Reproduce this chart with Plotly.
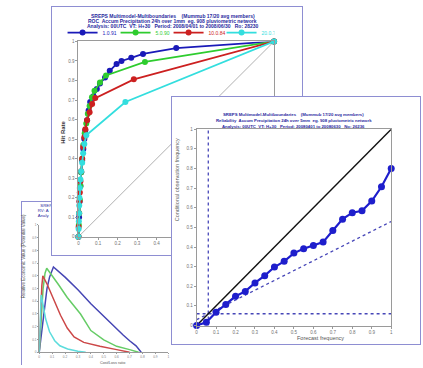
import plotly.graph_objects as go

W, H = 423, 368

# ---------------- DATA ----------------
# ROC curves (false alarm rate, hit rate) for 4 thresholds
roc_names = ["1.0.91", "5.0.90", "10.0.84", "20.0.77"]
roc_colors = ["#1a1ab8", "#2ecc2e", "#cc2020", "#33dede"]
roc_far = [
    [0, 0.003, 0.006, 0.010, 0.014, 0.019, 0.025, 0.030, 0.035, 0.044, 0.052, 0.060,
     0.077, 0.094, 0.110, 0.136, 0.160, 0.195, 0.220, 0.270, 0.330, 0.500, 1.0],
    [0, 0.002, 0.004, 0.007, 0.010, 0.014, 0.019, 0.025, 0.032, 0.040, 0.048, 0.057,
     0.069, 0.082, 0.110, 0.141, 0.340, 1.0],
    [0, 0.001, 0.003, 0.005, 0.007, 0.010, 0.014, 0.019, 0.024, 0.030, 0.035, 0.044,
     0.057, 0.070, 0.086, 0.283, 1.0],
    [0, 0.001, 0.002, 0.003, 0.004, 0.005, 0.007, 0.010, 0.014, 0.019, 0.024, 0.030,
     0.040, 0.240, 1.0],
]
roc_hr = [
    [0, 0.10, 0.18, 0.26, 0.33, 0.39, 0.45, 0.50, 0.545, 0.596, 0.646, 0.690,
     0.720, 0.756, 0.785, 0.815, 0.850, 0.885, 0.900, 0.916, 0.936, 0.966, 1.0],
    [0, 0.06, 0.12, 0.19, 0.26, 0.33, 0.40, 0.47, 0.53, 0.58, 0.63, 0.67,
     0.714, 0.747, 0.790, 0.826, 0.895, 1.0],
    [0, 0.05, 0.12, 0.18, 0.227, 0.284, 0.335, 0.40, 0.46, 0.51, 0.55, 0.596,
     0.638, 0.680, 0.710, 0.806, 1.0],
    [0, 0.04, 0.08, 0.12, 0.16, 0.20, 0.25, 0.293, 0.335, 0.379, 0.428, 0.475,
     0.52, 0.69, 1.0],
]

# Reliability diagram
rel_fcst = [0, 0.05, 0.10, 0.15, 0.20, 0.25, 0.30, 0.35, 0.40, 0.45, 0.50,
            0.55, 0.60, 0.65, 0.70, 0.75, 0.80, 0.85, 0.90, 0.95, 1.0]
rel_obs = [0.0, 0.017, 0.068, 0.107, 0.149, 0.174, 0.217, 0.254, 0.298, 0.327, 0.369,
           0.391, 0.408, 0.425, 0.484, 0.542, 0.575, 0.585, 0.634, 0.707, 0.80]
clim = 0.06

# Relative value curves (cost/loss ratio, value)
rv_colors = ["#4646b4", "#66cc66", "#cc4848", "#5cdcdc"]
rv_cl = [
    [0, 0.02, 0.04, 0.06, 0.08, 0.10, 0.11, 0.20, 0.30, 0.40, 0.50, 0.60, 0.65, 0.70, 0.75, 0.79],
    [0, 0.015, 0.03, 0.045, 0.058, 0.15, 0.217, 0.32, 0.40, 0.50, 0.60, 0.70, 0.77],
    [0, 0.01, 0.02, 0.028, 0.063, 0.114, 0.165, 0.217, 0.27, 0.345, 0.47, 0.60, 0.70],
    [0, 0.008, 0.015, 0.03, 0.05, 0.08, 0.12, 0.16, 0.22, 0.30, 0.36],
]
rv_val = [
    [0, 0.17, 0.37, 0.50, 0.59, 0.65, 0.67, 0.59, 0.49, 0.38, 0.28, 0.18, 0.135, 0.09, 0.05, 0.0],
    [0, 0.30, 0.50, 0.62, 0.66, 0.53, 0.43, 0.30, 0.17, 0.097, 0.046, 0.02, 0.0],
    [0, 0.30, 0.52, 0.60, 0.53, 0.41, 0.29, 0.19, 0.12, 0.077, 0.046, 0.02, 0.0],
    [0, 0.30, 0.45, 0.37, 0.26, 0.16, 0.09, 0.05, 0.025, 0.008, 0.0],
]

roc_title = ["SREPS Multimodel-Multiboundaries    (Mummub 17/20 avg members)",
             "ROC  Accum Precipitation 24h over 1mm  eg. 908 pluviometric network",
             "Analysis: 00UTC  VT: H+30   Period: 2008/04/01 to 2008/06/30   Ro: 28230"]
rel_title = ["SREPS Multimodel-Multiboundaries    (Mummub 17/20 avg members)",
             "Reliability  Accum Precipitation 24h over 5mm  eg. 908 pluviometric network",
             "Analysis: 00UTC  VT: H+30   Period: 20080401 to 20080630   No: 26236"]
# only the left ends of this panel's title are visible (rest lies under the ROC panel)
rv_title = ["SREP", "RV: A", "Analy"]

# ---------------- helpers ----------------
def dxp(a, b):
    return [a / W, b / W]

def dyp(top, bottom):
    return [max(0.0, 1 - bottom / H), min(1.0, 1 - top / H)]

FONT = "Liberation Sans, Arial, sans-serif"
BORDER = "#8e8ed2"
AXC = "#9a9a9a"
TICKF = dict(size=4.5, color="#707070", family=FONT)
TITLEC = "#2a2aa0"

fig = go.Figure()

# ---- panel 3 (bottom-left, lowest) paper: x/y
fig.add_trace(go.Scatter(
    x=[0.11, 0.095, 0.095], y=[0.976, 0.945, 0.915], mode="text",
    text=rv_title, textposition="middle right",
    textfont=dict(size=4.3, color=TITLEC, family=FONT),
    hoverinfo="skip", showlegend=False, xaxis="x", yaxis="y"))
# ---- panel 3 data: x2/y2
for cl, v, c in zip(rv_cl, rv_val, rv_colors):
    fig.add_trace(go.Scatter(x=cl, y=v, mode="lines", line=dict(color=c, width=1.5),
                             hoverinfo="skip", showlegend=False, cliponaxis=False,
                             xaxis="x2", yaxis="y2"))

# ---- panel 1 (ROC) paper: x3/y3
fig.add_trace(go.Scatter(x=[0.5], y=[0.5], mode="markers", marker=dict(opacity=0),
                         hoverinfo="skip", showlegend=False, xaxis="x3", yaxis="y3"))
# ---- ROC data: x4/y4
fig.add_trace(go.Scatter(x=[0, 1], y=[0, 1], mode="lines", line=dict(color="#b0b0b0", width=1),
                         hoverinfo="skip", showlegend=False, xaxis="x4", yaxis="y4"))
for f, h, n, c in zip(roc_far, roc_hr, roc_names, roc_colors):
    fig.add_trace(go.Scatter(x=f, y=h, mode="lines+markers",
                             name='<span style="color:%s">%s</span>' % (c, n),
                             line=dict(color=c, width=1.8),
                             marker=dict(color=c, size=6),
                             cliponaxis=False, hoverinfo="skip",
                             xaxis="x4", yaxis="y4"))

# ---- panel 2 (reliability) paper: x5/y5
fig.add_trace(go.Scatter(x=[0.5], y=[0.5], mode="markers", marker=dict(opacity=0),
                         hoverinfo="skip", showlegend=False, xaxis="x5", yaxis="y5"))
# ---- reliability data: x6/y6
DOT = "#4646b8"
fig.add_trace(go.Scatter(x=[clim, clim], y=[0, 1], mode="lines",
                         line=dict(color=DOT, width=1.3, dash="dot"),
                         hoverinfo="skip", showlegend=False, xaxis="x6", yaxis="y6"))
fig.add_trace(go.Scatter(x=[0, 1], y=[clim, clim], mode="lines",
                         line=dict(color=DOT, width=1.3, dash="dot"),
                         hoverinfo="skip", showlegend=False, xaxis="x6", yaxis="y6"))
fig.add_trace(go.Scatter(x=[0, 1], y=[clim / 2, (1 + clim) / 2], mode="lines",
                         line=dict(color=DOT, width=1.3, dash="dot"),
                         hoverinfo="skip", showlegend=False, xaxis="x6", yaxis="y6"))
fig.add_trace(go.Scatter(x=[0, 1], y=[0, 1], mode="lines", line=dict(color="#111111", width=1.4),
                         hoverinfo="skip", showlegend=False, xaxis="x6", yaxis="y6"))
fig.add_trace(go.Scatter(x=rel_fcst, y=rel_obs, mode="lines+markers",
                         line=dict(color="#1e1ecc", width=2.2),
                         marker=dict(color="#1e1ecc", size=7),
                         cliponaxis=False, hoverinfo="skip", showlegend=False,
                         xaxis="x6", yaxis="y6"))

# ---------------- axes ----------------
def paper_axes(n, xd, yd, mirror=True, xside="bottom"):
    common = dict(range=[0, 1], showticklabels=False, ticks="", showgrid=False,
                  zeroline=False, showline=True, linecolor=BORDER, linewidth=1,
                  mirror=mirror, fixedrange=True)
    sx = "" if n == 1 else str(n)
    fig.layout["xaxis" + sx] = dict(domain=xd, anchor="y" + sx, side=xside, **common)
    fig.layout["yaxis" + sx] = dict(domain=yd, anchor="x" + sx, **common)

def data_axes(n, xd, yd, mirror, tickfont, ticklen=2):
    sx = str(n)
    common = dict(range=[0, 1], dtick=0.1, tick0=0, showgrid=False, zeroline=False,
                  showline=True, linecolor=AXC, linewidth=1, mirror=mirror,
                  ticks="outside", ticklen=ticklen, tickcolor=AXC, tickwidth=1,
                  tickfont=tickfont, fixedrange=True)
    fig.layout["xaxis" + sx] = dict(domain=xd, anchor="y" + sx, **common)
    fig.layout["yaxis" + sx] = dict(domain=yd, anchor="x" + sx, **common)

paper_axes(1, dxp(21, 190), dyp(203, 368), mirror=False, xside="top")
data_axes(2, dxp(38.5, 168.5), dyp(226, 355), False, dict(size=3.2, color="#808080", family=FONT),
          ticklen=1)
paper_axes(3, dxp(51, 303), dyp(5, 256))
data_axes(4, dxp(78, 275), dyp(40, 238), True, TICKF)
paper_axes(5, dxp(172, 422), dyp(96, 347))
data_axes(6, dxp(197, 393), dyp(129, 328), True, TICKF)

# ---------------- annotations ----------------
ann = []
def add_text(txt, px, py, size, color="#333", bold=False, angle=0, xanchor="center"):
    t = "<b>%s</b>" % txt if bold else txt
    ann.append(dict(text=t, x=px / W, y=1 - py / H, xref="paper", yref="paper",
                    showarrow=False, textangle=angle, xanchor=xanchor, yanchor="middle",
                    font=dict(size=size, color=color, family=FONT)))

for i, line in enumerate(roc_title):
    add_text(line, 173, 14 + 5 * i, 5, TITLEC, bold=True)
for i, line in enumerate(rel_title):
    add_text(line, 295, 114 + 6 * i, 4.3, TITLEC, bold=True)

add_text("Hit Rate", 63, 132, 6, "#333", bold=True, angle=-90)
add_text("Conditional observation frequency", 177, 180, 5.5, "#666", angle=-90)
add_text("Forecast frequency", 322, 341, 5.5, "#555")
add_text("Relative Economic Value (Potential Value)", 23, 258, 4.5, "#555", angle=-90)
add_text("Cost/Loss ratio", 112, 365.5, 3.8, "#555")

fig.update_layout(
    width=W, height=H, margin=dict(l=0, r=0, t=0, b=0),
    paper_bgcolor="white", plot_bgcolor="white",
    annotations=ann, showlegend=True,
    legend=dict(orientation="h", x=62 / W, xanchor="left", y=1 - 31 / H, yanchor="middle",
                font=dict(size=5, family=FONT), bgcolor="rgba(0,0,0,0)",
                entrywidth=8, entrywidthmode="pixels", itemwidth=30,
                tracegroupgap=0, itemclick=False),
    font=dict(family=FONT),
)

fig.write_html("out.html")
